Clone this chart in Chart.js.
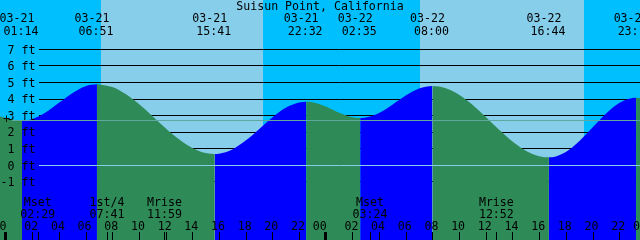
<!DOCTYPE html>
<html><head><meta charset="utf-8">
<script src="https://cdn.jsdelivr.net/npm/chart.js@4"></script>
<style>html,body{margin:0;padding:0;background:#00BFFF;overflow:hidden}canvas{display:block}</style>
</head><body><canvas id="c" width="640" height="240"></canvas>
<script>
// ---- data ----
const chartTitle = 'Suisun Point, California';
const extremeDates = ['03-21','03-21','03-21','03-21','03-22','03-22','03-22','03-22'];
const extremeTimes = ['01:14','06:51','15:41','22:32','02:35','08:00','16:44','23:16'];
const extremeHeights = [2.70, 4.89, 0.68, 3.84, 2.85, 4.79, 0.48, 4.08];
// hourly readings of the tide curve (hours since 03-21 00:00) in feet
const sampleHours = [-0.42,0,1,2,3,4,5,6,7,8,9,10,11,12,13,14,15,16,17,18,19,20,21,22,23,24,25,26,27,28,29,30,31,33,34,35,36,37,38,39,40,41,42,43,44,45,46,47,47.56];
const sampleHeights = [2.96,2.85,2.71,2.80,3.19,3.77,4.35,4.77,4.88,4.72,4.30,3.70,2.98,2.24,1.57,1.05,0.74,0.70,0.96,1.49,2.18,2.89,3.47,3.79,3.81,3.55,3.18,2.90,2.88,3.16,3.66,4.21,4.63,4.65,4.26,3.65,2.92,2.15,1.44,0.88,0.55,0.49,0.80,1.45,2.28,3.11,3.76,4.07,4.06];
const sunDates = ['03-21','03-21','03-22','03-22'];
const sunTimes = ['07:09','19:17','07:04','19:22'];
const moonLabels = ['Mset','1st/4','Mrise','Mset','Mrise'];
const moonDates = ['03-21','03-21','03-21','03-22','03-22'];
const moonTimes = ['02:29','07:41','11:59','03:24','12:52'];
const hourLabels = ['00','02','04','06','08','10','12','14','16','18','20','22'];
const footTicks = [-1,0,1,2,3,4,5,6,7];
const meanLevel = 2.72;

// ---- styles ----
const DAY = '#87CEEB', NIGHT = '#00BFFF', RISE = '#0000FF', FALL = '#2E8B57';
const FONT = '11.6px "DejaVu Sans Mono", monospace';

function toHours(date, hhmm){
  const d = date === '03-22' ? 24 : 0;
  const p = hhmm.split(':').map(Number);
  return d + p[0] + p[1]/60;
}
const pts = [];
sampleHours.forEach((h,i)=>pts.push({x:h,y:sampleHeights[i]}));
extremeTimes.forEach((t,i)=>pts.push({x:toHours(extremeDates[i],t),y:extremeHeights[i]}));
pts.sort((a,b)=>a.x-b.x);

const tidePlugin = {
  id:'tide',
  beforeDraw(chart){
    const {ctx, chartArea:a, scales:{x}} = chart;
    ctx.save();
    ctx.fillStyle = NIGHT; ctx.fillRect(0,0,chart.width,chart.height);
    ctx.fillStyle = DAY;
    for(let i=0;i<sunTimes.length;i+=2){
      const x0 = x.getPixelForValue(toHours(sunDates[i],sunTimes[i]));
      const x1 = x.getPixelForValue(toHours(sunDates[i+1],sunTimes[i+1]));
      ctx.fillRect(Math.round(x0),0,Math.round(x1)-Math.round(x0),chart.height);
    }
    ctx.restore();
  },
  beforeDatasetsDraw(chart){
    const {ctx, scales:{y}} = chart;
    ctx.save();
    ctx.strokeStyle = '#000'; ctx.lineWidth = 1;
    footTicks.forEach(v=>{
      const py = Math.floor(y.getPixelForValue(v))+0.5;
      ctx.beginPath(); ctx.moveTo(39,py); ctx.lineTo(640,py); ctx.stroke();
    });
    ctx.restore();
  },
  afterDatasetsDraw(chart){
    const {ctx, scales:{x,y}} = chart;
    ctx.save();
    ctx.lineWidth = 1;
    // datum line
    let py = Math.floor(y.getPixelForValue(0))+0.5;
    ctx.strokeStyle = '#87CEEB';
    ctx.beginPath(); ctx.moveTo(39,py); ctx.lineTo(640,py); ctx.stroke();
    // mean line
    py = Math.floor(y.getPixelForValue(meanLevel))+0.5;
    ctx.strokeStyle = '#5FA8A0';
    ctx.beginPath(); ctx.moveTo(12,py); ctx.lineTo(640,py); ctx.stroke();

    ctx.fillStyle = '#000';
    ctx.font = FONT;
    ctx.textBaseline = 'alphabetic';
    // foot labels
    ctx.textAlign = 'right';
    footTicks.forEach(v=>{
      const ly = y.getPixelForValue(v);
      ctx.fillText(v + ' ft', 35.5, ly + 4.3);
    });
    ctx.textAlign = 'center';
    ctx.fillText('+', 6.5, y.getPixelForValue(meanLevel) + 3);
    // title
    ctx.fillText(chartTitle, 320, 10);
    // extremes
    extremeTimes.forEach((t,i)=>{
      const px = x.getPixelForValue(toHours(extremeDates[i],t));
      ctx.fillText(extremeDates[i], px-5, 22);
      ctx.fillText(t, px-1, 34.5);
    });
    // moon events
    moonLabels.forEach((m,i)=>{
      const px = x.getPixelForValue(toHours(moonDates[i],moonTimes[i]));
      ctx.fillText(m, px-1, 206);
      ctx.fillText(moonTimes[i], px-1, 217.5);
      ctx.fillRect(Math.round(px)-1,232,1,8);
    });
    // hour ticks
    ['03-21','03-22','03-23'].forEach(d=>{
      hourLabels.forEach(hl=>{
        const h = toHours(d === '03-23' ? '03-22' : d, hl+':00') + (d === '03-23' ? 24 : 0);
        const px = x.getPixelForValue(h);
        if(px < -20 || px > 660) return;
        if(hl === '00'){
          ctx.fillRect(Math.round(px)-2,232,3,8);
          ctx.fillText(hl, px-6, 230);
        } else {
          ctx.fillRect(Math.round(px),232,1,8);
          ctx.fillText(hl, px-1, 230);
        }
      });
    });
    ctx.restore();
  }
};

new Chart(document.getElementById('c'), {
  type:'line',
  data:{datasets:[{
    data: pts,
    showLine:true,
    borderWidth:1,
    borderColor:'rgba(0,0,0,0)',
    backgroundColor: FALL,
    fill:'start',
    cubicInterpolationMode:'monotone',
    pointRadius:0,
    segment:{backgroundColor: c => (c.p1.parsed.y > c.p0.parsed.y ? RISE : FALL)}
  }]},
  options:{
    responsive:false,
    animation:false,
    devicePixelRatio:1,
    layout:{padding:0},
    events:[],
    plugins:{legend:{display:false},tooltip:{enabled:false},title:{display:false}},
    scales:{
      x:{type:'linear',min:-0.416,max:47.56,display:false},
      y:{type:'linear',min:-4.51,max:9.98,display:false}
    }
  },
  plugins:[tidePlugin]
});
</script>
</body></html>
